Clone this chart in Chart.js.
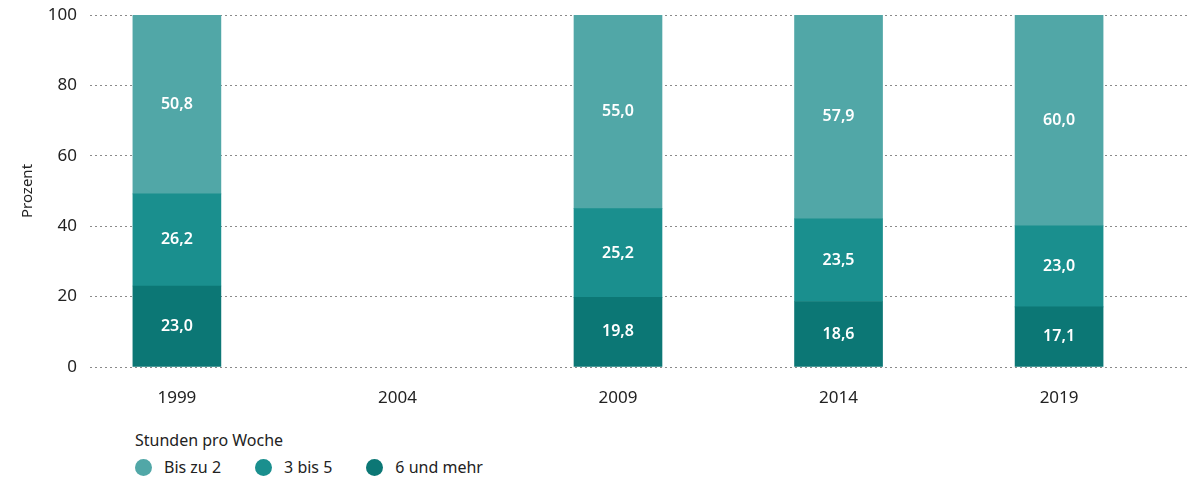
<!DOCTYPE html>
<html>
<head>
<meta charset="utf-8">
<script src="https://cdn.jsdelivr.net/npm/chart.js@4"></script>
<style>
  html, body { margin: 0; padding: 0; background: #fff; }
  body { width: 1187px; height: 484px; position: relative; overflow: hidden; font-family: "Noto Sans", sans-serif; }
  #wrap { position: absolute; left: 0; top: 0; width: 1187px; height: 420px; }
  #legend { position: absolute; left: 135px; top: 429px; color: #222; font-size: 16px; }
  #legend .title { margin-bottom: 5px; }
  #legend .item { display: inline-flex; align-items: center; margin-right: 34px; }
  #legend .dot { width: 17px; height: 17px; border-radius: 50%; margin-right: 12px; display: inline-block; }
</style>
</head>
<body>
<div id="wrap"><canvas id="chart"></canvas></div>
<div id="legend"></div>
<script>
// Daten
const years = [1999, 2004, 2009, 2014, 2019];
const seriesNames = ['Bis zu 2', '3 bis 5', '6 und mehr'];
const bisZu2 = [50.8, null, 55.0, 57.9, 60.0];
const dreiBis5 = [26.2, null, 25.2, 23.5, 23.0];
const sechsUndMehr = [23.0, null, 19.8, 18.6, 17.1];
const yTicks = [0, 20, 40, 60, 80, 100];
const legendTitle = 'Stunden pro Woche';
const yTitle = 'Prozent';

const colors = ['#51a7a7', '#1a8f8e', '#0c7775'];

function toPoints(values) {
    return years.map((y, i) => ({ x: y, y: values[i] }));
}

const seriesValues = [bisZu2, dreiBis5, sechsUndMehr];

// bottom first in the stack
const datasets = [2, 1, 0].map(i => ({
    label: seriesNames[i],
    data: toPoints(seriesValues[i]),
    backgroundColor: colors[i],
    barThickness: 88
}));

const valueLabels = {
    id: 'valueLabels',
    afterDatasetsDraw(chart) {
        const ctx = chart.ctx;
        ctx.save();
        ctx.fillStyle = '#fff';
        ctx.font = '600 16px "Noto Sans"';
        ctx.textAlign = 'center';
        ctx.textBaseline = 'middle';
        chart.data.datasets.forEach((ds, di) => {
            const meta = chart.getDatasetMeta(di);
            meta.data.forEach((el, i) => {
                const v = ds.data[i].y;
                if (v == null) return;
                ctx.fillText(v.toFixed(1).replace('.', ','), el.x, (el.y + el.base) / 2);
            });
        });
        ctx.restore();
    }
};

const ctx = document.getElementById('chart').getContext('2d');
new Chart(ctx, {
    type: 'bar',
    data: { datasets: datasets },
    options: {
        responsive: true,
        maintainAspectRatio: false,
        animation: false,
        layout: { padding: { top: 0, right: 0, left: 0, bottom: 0 } },
        plugins: { legend: { display: false }, tooltip: { enabled: false } },
        scales: {
            x: {
                type: 'linear',
                stacked: true,
                offset: false,
                min: 1997.03,
                max: 2021.9,
                grid: { display: false },
                border: { display: false },
                afterBuildTicks: s => { s.ticks = years.map(v => ({ value: v })); },
                afterFit: s => { s.height = 53; },
                ticks: {
                    padding: 13,
                    color: '#222',
                    font: { family: 'Noto Sans', size: 17 },
                    callback: v => String(v)
                }
            },
            y: {
                stacked: true,
                min: 0,
                max: 100,
                afterBuildTicks: s => { s.ticks = yTicks.map(v => ({ value: v })); },
                afterFit: s => { s.width = 90; s.paddingTop = 15; },
                border: { display: false, dash: [2, 3] },
                grid: {
                    color: '#8a8a8a',
                    lineWidth: 1,
                    drawTicks: false
                },
                ticks: {
                    padding: 13,
                    color: '#222',
                    font: { family: 'Noto Sans', size: 17 }
                },
                title: {
                    display: true,
                    text: yTitle,
                    color: '#222',
                    font: { family: 'Noto Sans', size: 15 },
                    padding: { top: 19, bottom: 0 }
                }
            }
        }
    },
    plugins: [valueLabels]
});

// Legende
const legend = document.getElementById('legend');
let html = '<div class="title">' + legendTitle + '</div>';
seriesNames.forEach((name, i) => {
    html += '<span class="item"><span class="dot" style="background:' + colors[i] + '"></span>' + name + '</span>';
});
legend.innerHTML = html;
</script>
</body>
</html>
